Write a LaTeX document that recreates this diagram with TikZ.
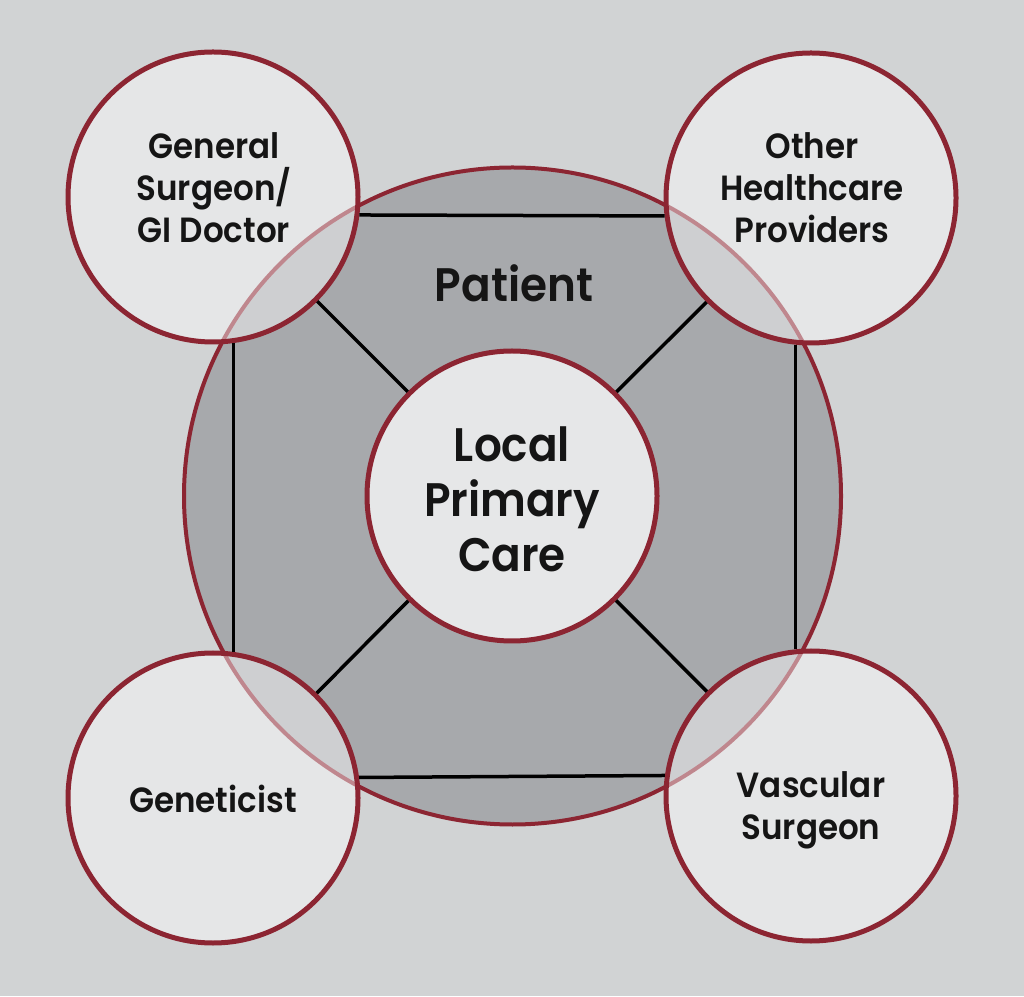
\documentclass[tikz,border=0pt]{standalone}
\usepackage{fontspec}
\setmainfont{Poppins}[UprightFont={* SemiBold},FakeStretch=0.93]
\definecolor{bg}{HTML}{D1D3D4}
\definecolor{patientfill}{HTML}{A7A9AC}
\definecolor{ring}{HTML}{8C2532}
\definecolor{innerfill}{HTML}{E6E7E8}
\definecolor{ink}{HTML}{151515}
\begin{document}
\begin{tikzpicture}[x=1pt,y=1pt,
 bigring/.style={circle,draw=ring,line width=4pt,fill=patientfill,minimum size=657pt,inner sep=0pt},
 hub/.style={circle,draw=ring,line width=5pt,fill=innerfill,minimum size=290pt,inner sep=0pt},
 spoke/.style={circle,draw=ring,line width=5pt,fill=white,fill opacity=0.45,draw opacity=1,minimum size=290pt,inner sep=0pt},
 link/.style={draw=black,line width=3.5pt},
 lbl/.style={text=ink,align=center,inner sep=0pt,anchor=base,font=\fontsize{35}{42}\selectfont},
 biglbl/.style={text=ink,align=center,inner sep=0pt,anchor=base,font=\fontsize{47}{55}\selectfont}]
\fill[bg] (0,0) rectangle (1024,996);
\useasboundingbox (0,0) rectangle (1024,996);
\node[bigring] (patient) at (512.5,500) {};
\node[hub] (hubc) at (512,500) {};
\node[spoke] (tl) at (213,799) {};
\node[spoke] (tr) at (811,798) {};
\node[spoke] (bl) at (213,198) {};
\node[spoke] (br) at (811,200) {};
% square links
\draw[link] (tl.-7.4) -- (tr.187);
\draw[link] (tl.-82.2) -- (bl.82.2);
\draw[link] (tr.-96.6) -- (br.96.6);
\draw[link] (bl.8.6) -- (br.172.2);
% diagonals
\draw[link] (hubc) -- (tl);
\draw[link] (hubc) -- (tr);
\draw[link] (hubc) -- (bl);
\draw[link] (hubc) -- (br);
% labels
\node[biglbl] (ptxt) at (514,694) {Patient};
\node[biglbl] (hubtxt) at (512,424) {Local\\Primary\\Care};
\node[lbl] (tltxt) at (214,753) {General\\Surgeon/\\GI Doctor};
\node[lbl] (trtxt) at (812,753) {Other\\Healthcare\\Providers};
\node[lbl] (bltxt) at (213,184) {Geneticist};
\node[lbl] (brtxt) at (811,157) {Vascular\\Surgeon};
\end{tikzpicture}
\end{document}
